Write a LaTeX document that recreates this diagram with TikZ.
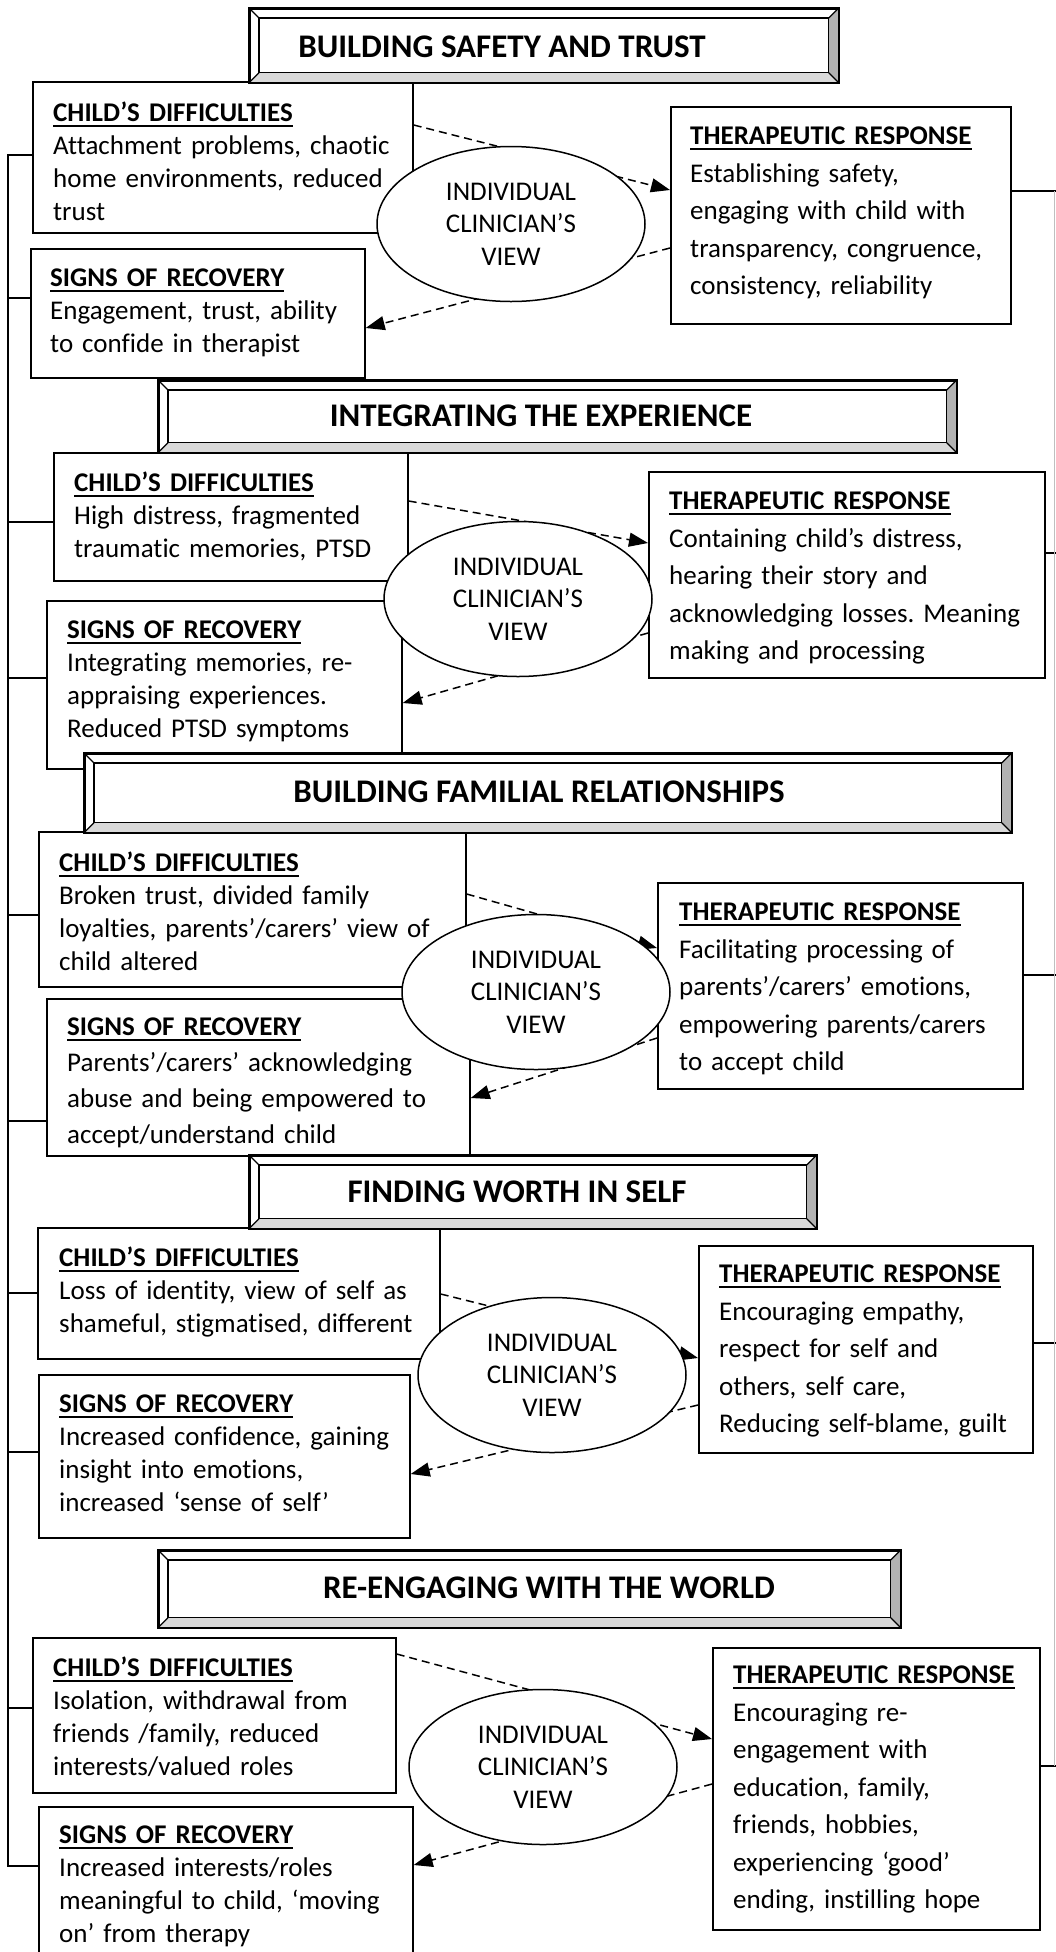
\documentclass[tikz,border=0pt]{standalone}
\usepackage{fontspec}
\setmainfont{Carlito}[Ligatures={NoCommon,NoContextual,NoRequired}, Contextuals=NoAlternate]
\frenchspacing
\usetikzlibrary{arrows.meta,shapes.geometric}
\tikzset{
  >={Triangle[length=19pt,width=14pt]},
  panel/.style = {draw, line width=1.7pt, fill=white, anchor=north west, inner sep=0pt},
  paneltxt/.style = {anchor=north west, inner sep=0pt, text width=440pt, align=left, font=\fontsize{27}{33}\selectfont},
  wide/.style = {font=\fontsize{27}{37.5}\selectfont},
  banner/.style = {draw, line width=1.7pt, fill=white, anchor=north west, inner sep=0pt},
  bannertxt/.style = {anchor=base, inner sep=0pt, font=\fontsize{33}{38}\selectfont\bfseries},
  view/.style = {ellipse, draw, line width=1.5pt, fill=white, minimum width=268pt, minimum height=155pt, inner sep=0pt, align=center, font=\fontsize{27}{32.5}\selectfont},
  flow/.style = {->, dash pattern=on 8pt off 5pt, line width=1.5pt},
  link/.style = {line width=1.7pt},
}
\newcommand{\boxhead}[1]{\setbox0\hbox{\bfseries #1}\rlap{\rule[-5pt]{\wd0}{2pt}}\box0}
\newcommand{\bannerbevel}[1]{%
  \fill[gray!30] (#1.south west) -- (#1.south east) -- ([shift={(-10,-10)}]#1.south east) -- ([shift={(10,-10)}]#1.south west) -- cycle;
  \fill[gray!60] (#1.north east) -- (#1.south east) -- ([shift={(-10,-10)}]#1.south east) -- ([shift={(-10,10)}]#1.north east) -- cycle;
  \draw[line width=1.2pt] ([shift={(10,10)}]#1.north west) rectangle ([shift={(-10,-10)}]#1.south east);
  \draw[line width=1.2pt] (#1.north west) -- ++(10,10) (#1.north east) -- ++(-10,10)
    (#1.south east) -- ++(-10,-10) (#1.south west) -- ++(10,-10);
  \draw[line width=1.7pt] (#1.north west) rectangle (#1.south east);
}

\begin{document}
\begin{tikzpicture}[x=1pt, y=-1pt]
  \clip (0,0) rectangle (1056,1952);

  % building safety and trust
  \node[panel, minimum width=380pt, minimum height=151pt] (diffA) at (32,81) {};
  \node[paneltxt] (diffAtxt) at ([shift={(21,21)}]diffA.north west)
    {\boxhead{CHILD’S DIFFICULTIES}\\Attachment problems, chaotic\\home environments, reduced\\trust};
  \node[panel, minimum width=340pt, minimum height=217pt] (respA) at (670,106) {};
  \node[paneltxt, wide] (respAtxt) at ([shift={(20,21)}]respA.north west)
    {\boxhead{THERAPEUTIC RESPONSE}\\Establishing safety,\\engaging with child with\\transparency, congruence,\\consistency, reliability};
  \node[panel, minimum width=334pt, minimum height=129pt] (recA) at (30,248) {};
  \node[paneltxt] (recAtxt) at ([shift={(20,21)}]recA.north west)
    {\boxhead{SIGNS OF RECOVERY}\\Engagement, trust, ability\\to confide in therapist};
  \draw[flow] (diffA.east |- 0,125) -- (respA.west |- 0,190);
  \draw[flow] (respA.west |- 0,248) -- (recA.east |- 0,328);
  \node[view] (viewA) at (511,224) {INDIVIDUAL\\CLINICIAN’S\\VIEW};
  \node[banner, minimum width=588pt, minimum height=73pt] (headA) at (249,8) {};
  \bannerbevel{headA}
  \node[bannertxt] (headAtxt) at (502,57) {BUILDING SAFETY AND TRUST};

  % integrating the experience
  \node[panel, minimum width=354pt, minimum height=128pt] (diffB) at (53,452) {};
  \node[paneltxt] (diffBtxt) at ([shift={(21,20)}]diffB.north west)
    {\boxhead{CHILD’S DIFFICULTIES}\\High distress, fragmented\\traumatic memories, PTSD};
  \node[panel, minimum width=396pt, minimum height=206pt] (respB) at (648,471) {};
  \node[paneltxt, wide] (respBtxt) at ([shift={(21,21)}]respB.north west)
    {\boxhead{THERAPEUTIC RESPONSE}\\Containing child’s distress,\\hearing their story and\\acknowledging losses. Meaning\\making and processing};
  \node[panel, minimum width=355pt, minimum height=168pt] (recB) at (46,600) {};
  \node[paneltxt] (recBtxt) at ([shift={(21,21)}]recB.north west)
    {\boxhead{SIGNS OF RECOVERY}\\Integrating memories, re-\\appraising experiences.\\Reduced PTSD symptoms};
  \draw[flow] (diffB.east |- 0,501) -- (respB.west |- 0,543);
  \draw[flow] (respB.west |- 0,633) -- (recB.east |- 0,703);
  \node[view] (viewB) at (518,599) {INDIVIDUAL\\CLINICIAN’S\\VIEW};
  \node[banner, minimum width=797pt, minimum height=71pt] (headB) at (158,380) {};
  \bannerbevel{headB}
  \node[bannertxt] (headBtxt) at (541,426) {INTEGRATING THE EXPERIENCE};

  % building familial relationships
  \node[panel, minimum width=427pt, minimum height=155pt] (diffC) at (38,831) {};
  \node[paneltxt] (diffCtxt) at ([shift={(21,21)}]diffC.north west)
    {\boxhead{CHILD’S DIFFICULTIES}\\Broken trust, divided family\\loyalties, parents’/carers’ view of\\child altered};
  \node[panel, minimum width=365pt, minimum height=206pt] (respC) at (657,882) {};
  \node[paneltxt, wide] (respCtxt) at ([shift={(22,21)}]respC.north west)
    {\boxhead{THERAPEUTIC RESPONSE}\\Facilitating processing of\\parents’/carers’ emotions,\\empowering parents/carers\\to accept child};
  \node[panel, minimum width=423pt, minimum height=157pt] (recC) at (46,998) {};
  \node[paneltxt, font=\fontsize{27}{36}\selectfont] (recCtxt) at ([shift={(21,20)}]recC.north west)
    {\boxhead{SIGNS OF RECOVERY}\\Parents’/carers’ acknowledging\\abuse and being empowered to\\accept/understand child};
  \draw[flow] (diffC.east |- 0,894) -- (respC.west |- 0,948);
  \draw[flow] (respC.west |- 0,1038) -- (recC.east |- 0,1098);
  \node[view] (viewC) at (536,992) {INDIVIDUAL\\CLINICIAN’S\\VIEW};
  \node[banner, minimum width=926pt, minimum height=78pt] (headC) at (84,753) {};
  \bannerbevel{headC}
  \node[bannertxt] (headCtxt) at (539,802) {BUILDING FAMILIAL RELATIONSHIPS};

  % finding worth in self
  \node[panel, minimum width=402pt, minimum height=131pt] (diffD) at (37,1227) {};
  \node[paneltxt] (diffDtxt) at ([shift={(22,20)}]diffD.north west)
    {\boxhead{CHILD’S DIFFICULTIES}\\Loss of identity, view of self as\\shameful, stigmatised, different};
  \node[panel, minimum width=334pt, minimum height=207pt] (respD) at (698,1245) {};
  \node[paneltxt, wide] (respDtxt) at ([shift={(21,20)}]respD.north west)
    {\boxhead{THERAPEUTIC RESPONSE}\\Encouraging empathy,\\respect for self and\\others, self care,\\Reducing self-blame, guilt};
  \node[panel, minimum width=371pt, minimum height=163pt] (recD) at (38,1374) {};
  \node[paneltxt] (recDtxt) at ([shift={(21,21)}]recD.north west)
    {\boxhead{SIGNS OF RECOVERY}\\Increased confidence, gaining\\insight into emotions,\\increased ‘sense of self’};
  \draw[flow] (diffD.east |- 0,1294) -- (respD.west |- 0,1358);
  \draw[flow] (respD.west |- 0,1405) -- (recD.east |- 0,1474);
  \node[view] (viewD) at (552,1375) {INDIVIDUAL\\CLINICIAN’S\\VIEW};
  \node[banner, minimum width=566pt, minimum height=72pt] (headD) at (249,1155) {};
  \bannerbevel{headD}
  \node[bannertxt] (headDtxt) at (517,1202) {FINDING WORTH IN SELF};

  % re-engaging with the world
  \node[panel, minimum width=363pt, minimum height=155pt] (diffE) at (32,1637) {};
  \node[paneltxt] (diffEtxt) at ([shift={(21,20)}]diffE.north west)
    {\boxhead{CHILD’S DIFFICULTIES}\\Isolation, withdrawal from\\friends /family, reduced\\interests/valued roles};
  \node[panel, minimum width=327pt, minimum height=282pt] (respE) at (712,1647) {};
  \node[paneltxt, wide] (respEtxt) at ([shift={(21,19)}]respE.north west)
    {\boxhead{THERAPEUTIC RESPONSE}\\Encouraging re-\\engagement with\\education, family,\\friends, hobbies,\\experiencing ‘good’\\ending, instilling hope};
  \node[panel, minimum width=374pt, minimum height=170pt] (recE) at (38,1806) {};
  \node[paneltxt] (recEtxt) at ([shift={(21,20)}]recE.north west)
    {\boxhead{SIGNS OF RECOVERY}\\Increased interests/roles\\meaningful to child, ‘moving\\on’ from therapy};
  \draw[flow] (diffE.east |- 0,1654) -- (respE.west |- 0,1739);
  \draw[flow] (respE.west |- 0,1784) -- (recE.east |- 0,1865);
  \node[view] (viewE) at (543,1767) {INDIVIDUAL\\CLINICIAN’S\\VIEW};
  \node[banner, minimum width=741pt, minimum height=76pt] (headE) at (158,1550) {};
  \bannerbevel{headE}
  \node[bannertxt] (headEtxt) at (549,1598) {RE-ENGAGING WITH THE WORLD};

  % left bracket
  \draw[link] (diffA.west |- 0,155) -- (8,155) -- (8,1866) -- (recE.west |- 0,1866);
  \draw[link] (8,298) -- (recA.west |- 0,298);
  \draw[link] (8,522) -- (diffB.west |- 0,522);
  \draw[link] (8,678) -- (recB.west |- 0,678);
  \draw[link] (8,915) -- (diffC.west |- 0,915);
  \draw[link] (8,1121) -- (recC.west |- 0,1121);
  \draw[link] (8,1293) -- (diffD.west |- 0,1293);
  \draw[link] (8,1452) -- (recD.west |- 0,1452);
  \draw[link] (8,1708) -- (diffE.west |- 0,1708);

  % right bracket
  \draw[link] (respA.east |- 0,191) -- (1056,191);
  \draw[link] (respB.east |- 0,553) -- (1056,553);
  \draw[link] (respC.east |- 0,975) -- (1056,975);
  \draw[link] (respD.east |- 0,1343) -- (1056,1343);
  \draw[link] (respE.east |- 0,1766) -- (1056,1766);
  \draw[line width=0.8pt, gray!50] (1054,191) -- (1054,1766);
\end{tikzpicture}
\end{document}
